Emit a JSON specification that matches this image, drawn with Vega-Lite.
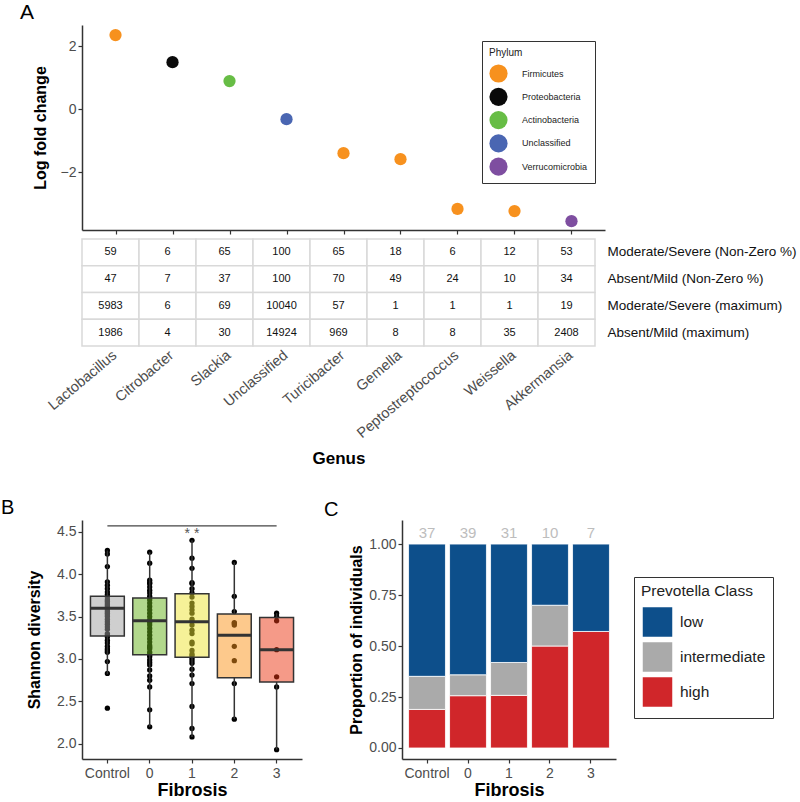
{
  "$schema": "https://vega.github.io/schema/vega-lite/v6.json",
  "padding": {"left": 1, "top": 2, "right": 1, "bottom": 2},
  "config": {
    "font": "Liberation Sans",
    "view": {"stroke": null},
    "axis": {"domainColor": "#333333", "domainWidth": 1.5, "tickColor": "#333333", "tickWidth": 1.2, "tickSize": 4, "labelColor": "#4d4d4d", "labelFontSize": 14, "labelFont": "Liberation Sans", "titleFont": "Liberation Sans", "titleFontSize": 17, "titleFontWeight": "bold", "titleColor": "#000000", "grid": false},
    "title": {"font": "Liberation Sans", "fontWeight": "normal", "color": "#000000"}
  },
  "datasets": {
    "lfc": [
      {"genus": "Lactobacillus", "phylum": "Firmicutes", "lfc": 2.35},
      {"genus": "Citrobacter", "phylum": "Proteobacteria", "lfc": 1.49},
      {"genus": "Slackia", "phylum": "Actinobacteria", "lfc": 0.89},
      {"genus": "Unclassified", "phylum": "Unclassified", "lfc": -0.32},
      {"genus": "Turicibacter", "phylum": "Firmicutes", "lfc": -1.40},
      {"genus": "Gemella", "phylum": "Firmicutes", "lfc": -1.59},
      {"genus": "Peptostreptococcus", "phylum": "Firmicutes", "lfc": -3.17},
      {"genus": "Weissella", "phylum": "Firmicutes", "lfc": -3.24},
      {"genus": "Akkermansia", "phylum": "Verrucomicrobia", "lfc": -3.56}
    ],
    "tbl": [
      {"genus": "Lactobacillus", "row": "Moderate/Severe (Non-Zero %)", "value": 59},
      {"genus": "Citrobacter", "row": "Moderate/Severe (Non-Zero %)", "value": 6},
      {"genus": "Slackia", "row": "Moderate/Severe (Non-Zero %)", "value": 65},
      {"genus": "Unclassified", "row": "Moderate/Severe (Non-Zero %)", "value": 100},
      {"genus": "Turicibacter", "row": "Moderate/Severe (Non-Zero %)", "value": 65},
      {"genus": "Gemella", "row": "Moderate/Severe (Non-Zero %)", "value": 18},
      {"genus": "Peptostreptococcus", "row": "Moderate/Severe (Non-Zero %)", "value": 6},
      {"genus": "Weissella", "row": "Moderate/Severe (Non-Zero %)", "value": 12},
      {"genus": "Akkermansia", "row": "Moderate/Severe (Non-Zero %)", "value": 53},
      {"genus": "Lactobacillus", "row": "Absent/Mild (Non-Zero %)", "value": 47},
      {"genus": "Citrobacter", "row": "Absent/Mild (Non-Zero %)", "value": 7},
      {"genus": "Slackia", "row": "Absent/Mild (Non-Zero %)", "value": 37},
      {"genus": "Unclassified", "row": "Absent/Mild (Non-Zero %)", "value": 100},
      {"genus": "Turicibacter", "row": "Absent/Mild (Non-Zero %)", "value": 70},
      {"genus": "Gemella", "row": "Absent/Mild (Non-Zero %)", "value": 49},
      {"genus": "Peptostreptococcus", "row": "Absent/Mild (Non-Zero %)", "value": 24},
      {"genus": "Weissella", "row": "Absent/Mild (Non-Zero %)", "value": 10},
      {"genus": "Akkermansia", "row": "Absent/Mild (Non-Zero %)", "value": 34},
      {"genus": "Lactobacillus", "row": "Moderate/Severe (maximum)", "value": 5983},
      {"genus": "Citrobacter", "row": "Moderate/Severe (maximum)", "value": 6},
      {"genus": "Slackia", "row": "Moderate/Severe (maximum)", "value": 69},
      {"genus": "Unclassified", "row": "Moderate/Severe (maximum)", "value": 10040},
      {"genus": "Turicibacter", "row": "Moderate/Severe (maximum)", "value": 57},
      {"genus": "Gemella", "row": "Moderate/Severe (maximum)", "value": 1},
      {"genus": "Peptostreptococcus", "row": "Moderate/Severe (maximum)", "value": 1},
      {"genus": "Weissella", "row": "Moderate/Severe (maximum)", "value": 1},
      {"genus": "Akkermansia", "row": "Moderate/Severe (maximum)", "value": 19},
      {"genus": "Lactobacillus", "row": "Absent/Mild (maximum)", "value": 1986},
      {"genus": "Citrobacter", "row": "Absent/Mild (maximum)", "value": 4},
      {"genus": "Slackia", "row": "Absent/Mild (maximum)", "value": 30},
      {"genus": "Unclassified", "row": "Absent/Mild (maximum)", "value": 14924},
      {"genus": "Turicibacter", "row": "Absent/Mild (maximum)", "value": 969},
      {"genus": "Gemella", "row": "Absent/Mild (maximum)", "value": 8},
      {"genus": "Peptostreptococcus", "row": "Absent/Mild (maximum)", "value": 8},
      {"genus": "Weissella", "row": "Absent/Mild (maximum)", "value": 35},
      {"genus": "Akkermansia", "row": "Absent/Mild (maximum)", "value": 2408}
    ],
    "shannon": [
      {"fibrosis": "Control", "shannon": 4.28}, {"fibrosis": "Control", "shannon": 4.24}, {"fibrosis": "Control", "shannon": 4.09}, {"fibrosis": "Control", "shannon": 3.91}, {"fibrosis": "Control", "shannon": 3.87}, {"fibrosis": "Control", "shannon": 3.83}, {"fibrosis": "Control", "shannon": 3.79}, {"fibrosis": "Control", "shannon": 3.76}, {"fibrosis": "Control", "shannon": 3.73}, {"fibrosis": "Control", "shannon": 3.70}, {"fibrosis": "Control", "shannon": 3.68}, {"fibrosis": "Control", "shannon": 3.66}, {"fibrosis": "Control", "shannon": 3.64}, {"fibrosis": "Control", "shannon": 3.62}, {"fibrosis": "Control", "shannon": 3.60}, {"fibrosis": "Control", "shannon": 3.58}, {"fibrosis": "Control", "shannon": 3.56}, {"fibrosis": "Control", "shannon": 3.54}, {"fibrosis": "Control", "shannon": 3.52}, {"fibrosis": "Control", "shannon": 3.50}, {"fibrosis": "Control", "shannon": 3.47}, {"fibrosis": "Control", "shannon": 3.44}, {"fibrosis": "Control", "shannon": 3.41}, {"fibrosis": "Control", "shannon": 3.38}, {"fibrosis": "Control", "shannon": 3.35}, {"fibrosis": "Control", "shannon": 3.30}, {"fibrosis": "Control", "shannon": 3.28}, {"fibrosis": "Control", "shannon": 3.26}, {"fibrosis": "Control", "shannon": 3.22}, {"fibrosis": "Control", "shannon": 3.19}, {"fibrosis": "Control", "shannon": 3.15}, {"fibrosis": "Control", "shannon": 3.12}, {"fibrosis": "Control", "shannon": 3.10}, {"fibrosis": "Control", "shannon": 3.08}, {"fibrosis": "Control", "shannon": 2.97}, {"fibrosis": "Control", "shannon": 2.83}, {"fibrosis": "Control", "shannon": 2.42},
      {"fibrosis": "0", "shannon": 4.26}, {"fibrosis": "0", "shannon": 4.13}, {"fibrosis": "0", "shannon": 3.93}, {"fibrosis": "0", "shannon": 3.90}, {"fibrosis": "0", "shannon": 3.89}, {"fibrosis": "0", "shannon": 3.85}, {"fibrosis": "0", "shannon": 3.81}, {"fibrosis": "0", "shannon": 3.78}, {"fibrosis": "0", "shannon": 3.74}, {"fibrosis": "0", "shannon": 3.70}, {"fibrosis": "0", "shannon": 3.66}, {"fibrosis": "0", "shannon": 3.62}, {"fibrosis": "0", "shannon": 3.58}, {"fibrosis": "0", "shannon": 3.54}, {"fibrosis": "0", "shannon": 3.50}, {"fibrosis": "0", "shannon": 3.46}, {"fibrosis": "0", "shannon": 3.45}, {"fibrosis": "0", "shannon": 3.43}, {"fibrosis": "0", "shannon": 3.40}, {"fibrosis": "0", "shannon": 3.36}, {"fibrosis": "0", "shannon": 3.32}, {"fibrosis": "0", "shannon": 3.28}, {"fibrosis": "0", "shannon": 3.24}, {"fibrosis": "0", "shannon": 3.20}, {"fibrosis": "0", "shannon": 3.16}, {"fibrosis": "0", "shannon": 3.14}, {"fibrosis": "0", "shannon": 3.12}, {"fibrosis": "0", "shannon": 3.08}, {"fibrosis": "0", "shannon": 3.05}, {"fibrosis": "0", "shannon": 3.03}, {"fibrosis": "0", "shannon": 2.99}, {"fibrosis": "0", "shannon": 2.96}, {"fibrosis": "0", "shannon": 2.93}, {"fibrosis": "0", "shannon": 2.87}, {"fibrosis": "0", "shannon": 2.80}, {"fibrosis": "0", "shannon": 2.75}, {"fibrosis": "0", "shannon": 2.67}, {"fibrosis": "0", "shannon": 2.40}, {"fibrosis": "0", "shannon": 2.20},
      {"fibrosis": "1", "shannon": 4.40}, {"fibrosis": "1", "shannon": 4.19}, {"fibrosis": "1", "shannon": 4.07}, {"fibrosis": "1", "shannon": 3.90}, {"fibrosis": "1", "shannon": 3.89}, {"fibrosis": "1", "shannon": 3.83}, {"fibrosis": "1", "shannon": 3.78}, {"fibrosis": "1", "shannon": 3.73}, {"fibrosis": "1", "shannon": 3.66}, {"fibrosis": "1", "shannon": 3.62}, {"fibrosis": "1", "shannon": 3.58}, {"fibrosis": "1", "shannon": 3.54}, {"fibrosis": "1", "shannon": 3.47}, {"fibrosis": "1", "shannon": 3.44}, {"fibrosis": "1", "shannon": 3.40}, {"fibrosis": "1", "shannon": 3.34}, {"fibrosis": "1", "shannon": 3.30}, {"fibrosis": "1", "shannon": 3.20}, {"fibrosis": "1", "shannon": 3.18}, {"fibrosis": "1", "shannon": 3.10}, {"fibrosis": "1", "shannon": 3.06}, {"fibrosis": "1", "shannon": 3.04}, {"fibrosis": "1", "shannon": 3.01}, {"fibrosis": "1", "shannon": 2.98}, {"fibrosis": "1", "shannon": 2.95}, {"fibrosis": "1", "shannon": 2.88}, {"fibrosis": "1", "shannon": 2.81}, {"fibrosis": "1", "shannon": 2.71}, {"fibrosis": "1", "shannon": 2.44}, {"fibrosis": "1", "shannon": 2.18}, {"fibrosis": "1", "shannon": 2.08},
      {"fibrosis": "2", "shannon": 4.14}, {"fibrosis": "2", "shannon": 3.74}, {"fibrosis": "2", "shannon": 3.56}, {"fibrosis": "2", "shannon": 3.43}, {"fibrosis": "2", "shannon": 3.42}, {"fibrosis": "2", "shannon": 3.40}, {"fibrosis": "2", "shannon": 3.15}, {"fibrosis": "2", "shannon": 2.98}, {"fibrosis": "2", "shannon": 2.71}, {"fibrosis": "2", "shannon": 2.29},
      {"fibrosis": "3", "shannon": 3.54}, {"fibrosis": "3", "shannon": 3.50}, {"fibrosis": "3", "shannon": 3.45}, {"fibrosis": "3", "shannon": 3.11}, {"fibrosis": "3", "shannon": 2.79}, {"fibrosis": "3", "shannon": 2.67}, {"fibrosis": "3", "shannon": 1.93}
    ],
    "box": [
      {"fibrosis": "Control", "lower": 2.82, "q1": 3.27, "median": 3.60, "q3": 3.74, "upper": 4.28},
      {"fibrosis": "0", "lower": 2.20, "q1": 3.05, "median": 3.45, "q3": 3.72, "upper": 4.26},
      {"fibrosis": "1", "lower": 2.08, "q1": 3.02, "median": 3.44, "q3": 3.77, "upper": 4.40},
      {"fibrosis": "2", "lower": 2.29, "q1": 2.78, "median": 3.28, "q3": 3.53, "upper": 4.14},
      {"fibrosis": "3", "lower": 1.93, "q1": 2.73, "median": 3.11, "q3": 3.49, "upper": 3.54}
    ],
    "sig": [{"from": "Control", "to": "3", "mid": "1", "y": 4.57, "label": "* *"}],
    "prev": [
      {"fibrosis": "Control", "class": "high", "count": 7}, {"fibrosis": "Control", "class": "intermediate", "count": 6}, {"fibrosis": "Control", "class": "low", "count": 24},
      {"fibrosis": "0", "class": "high", "count": 10}, {"fibrosis": "0", "class": "intermediate", "count": 4}, {"fibrosis": "0", "class": "low", "count": 25},
      {"fibrosis": "1", "class": "high", "count": 8}, {"fibrosis": "1", "class": "intermediate", "count": 5}, {"fibrosis": "1", "class": "low", "count": 18},
      {"fibrosis": "2", "class": "high", "count": 5}, {"fibrosis": "2", "class": "intermediate", "count": 2}, {"fibrosis": "2", "class": "low", "count": 3},
      {"fibrosis": "3", "class": "high", "count": 4}, {"fibrosis": "3", "class": "low", "count": 3}
    ],
    "ncount": [
      {"fibrosis": "Control", "n": 37, "top": 1}, {"fibrosis": "0", "n": 39, "top": 1}, {"fibrosis": "1", "n": 31, "top": 1}, {"fibrosis": "2", "n": 10, "top": 1}, {"fibrosis": "3", "n": 7, "top": 1}
    ]
  },
  "resolve": {"scale": {"x": "independent", "y": "independent", "color": "independent", "fill": "independent"}, "legend": {"color": "independent"}},
  "spacing": 31,
  "vconcat": [
    {
      "spacing": 3,
      "resolve": {"scale": {"x": "independent", "y": "independent", "color": "independent"}},
      "vconcat": [
        {
          "width": 523,
          "height": 205,
          "title": {"text": "A", "anchor": "start", "frame": "group", "dx": -62, "fontSize": 21, "offset": 2},
          "data": {"name": "lfc"},
          "mark": {"type": "circle", "size": 150, "opacity": 1},
          "encoding": {
            "x": {"field": "genus", "type": "nominal", "sort": ["Lactobacillus", "Citrobacter", "Slackia", "Unclassified", "Turicibacter", "Gemella", "Peptostreptococcus", "Weissella", "Akkermansia"], "scale": {"type": "point", "padding": 0.588}, "axis": {"labels": false, "title": null}},
            "y": {"field": "lfc", "type": "quantitative", "scale": {"domain": [-3.84, 2.67], "nice": false, "zero": false}, "axis": {"values": [-2, 0, 2], "title": "Log fold change", "titleFontSize": 16, "titlePadding": 12}},
            "color": {
              "field": "phylum", "type": "nominal",
              "scale": {"domain": ["Firmicutes", "Proteobacteria", "Actinobacteria", "Unclassified", "Verrucomicrobia"], "range": ["#f7911e", "#0a0a0a", "#67bd45", "#4a66b2", "#7e4ea0"]},
              "legend": {"orient": "none", "legendX": 400, "legendY": 16, "title": "Phylum", "titleFontSize": 10, "titleFontWeight": "normal", "titleColor": "#222222", "titlePadding": 6, "labelFontSize": 9, "labelColor": "#222222", "labelOffset": 14, "symbolType": "circle", "symbolSize": 330, "symbolOpacity": 1, "symbolStrokeWidth": 0, "rowPadding": 4.3, "padding": 7, "strokeColor": "#333333", "fillColor": "white"}
            }
          }
        },
        {
          "width": 513,
          "height": 107,
          "data": {"name": "tbl"},
          "encoding": {
            "x": {"field": "genus", "type": "nominal", "sort": ["Lactobacillus", "Citrobacter", "Slackia", "Unclassified", "Turicibacter", "Gemella", "Peptostreptococcus", "Weissella", "Akkermansia"], "scale": {"type": "band", "paddingInner": 0, "paddingOuter": 0}, "axis": {"orient": "bottom", "labelAngle": -40, "labelFontSize": 14.5, "domain": false, "ticks": false, "labelPadding": 2, "title": "Genus", "titleFontSize": 17, "titlePadding": 10}},
            "y": {"field": "row", "type": "nominal", "sort": ["Moderate/Severe (Non-Zero %)", "Absent/Mild (Non-Zero %)", "Moderate/Severe (maximum)", "Absent/Mild (maximum)"], "scale": {"type": "band", "paddingInner": 0, "paddingOuter": 0}, "axis": {"orient": "right", "domain": false, "ticks": false, "labelPadding": 12, "labelFontSize": 13.5, "labelLimit": 300, "labelColor": "#111111", "title": null}}
          },
          "layer": [
            {"mark": {"type": "rect", "fill": "white", "stroke": "#d9d9d9", "strokeWidth": 1.5}},
            {"mark": {"type": "text", "fontSize": 11, "color": "#111111"}, "encoding": {"text": {"field": "value", "type": "quantitative", "format": "d"}}}
          ]
        }
      ]
    },
    {
      "spacing": 22,
      "resolve": {"scale": {"x": "independent", "y": "independent", "color": "independent", "fill": "independent"}},
      "hconcat": [
        {
          "width": 220,
          "height": 239,
          "title": {"text": "B", "anchor": "start", "frame": "group", "dx": -81, "fontSize": 20, "offset": 2},
          "layer": [
            {
              "data": {"name": "shannon"},
              "mark": {"type": "circle", "size": 28, "color": "#000000", "opacity": 1},
              "encoding": {
                "x": {"field": "fibrosis", "type": "nominal", "scale": {"type": "band", "domain": ["Control", "0", "1", "2", "3"], "paddingInner": 0, "paddingOuter": 0.1}, "axis": {"labelAngle": 0, "title": "Fibrosis", "labelPadding": 3, "titleFontSize": 18, "titlePadding": 1}},
                "y": {"field": "shannon", "type": "quantitative", "scale": {"domain": [1.82, 4.64], "nice": false, "zero": false}, "title": "Shannon diversity", "axis": {"values": [2, 2.5, 3, 3.5, 4, 4.5], "format": ".1f", "titleFontSize": 16, "titlePadding": 14}}
              }
            },
            {
              "data": {"name": "box"},
              "mark": {"type": "rule", "color": "#333333", "strokeWidth": 1.5},
              "encoding": {
                "x": {"field": "fibrosis", "type": "nominal", "scale": {"type": "band", "domain": ["Control", "0", "1", "2", "3"], "paddingInner": 0, "paddingOuter": 0.1}, "title": "Fibrosis"},
                "y": {"field": "lower", "type": "quantitative", "scale": {"domain": [1.82, 4.64], "nice": false, "zero": false}, "title": "Shannon diversity"},
                "y2": {"field": "q1"}
              }
            },
            {
              "data": {"name": "box"},
              "mark": {"type": "rule", "color": "#333333", "strokeWidth": 1.5},
              "encoding": {
                "x": {"field": "fibrosis", "type": "nominal", "scale": {"type": "band", "domain": ["Control", "0", "1", "2", "3"], "paddingInner": 0, "paddingOuter": 0.1}, "title": "Fibrosis"},
                "y": {"field": "q3", "type": "quantitative", "scale": {"domain": [1.82, 4.64], "nice": false, "zero": false}, "title": "Shannon diversity"},
                "y2": {"field": "upper"}
              }
            },
            {
              "data": {"name": "box"},
              "mark": {"type": "bar", "width": {"band": 0.8}, "stroke": "#333333", "strokeWidth": 1.5, "fillOpacity": 0.5},
              "encoding": {
                "x": {"field": "fibrosis", "type": "nominal", "scale": {"type": "band", "domain": ["Control", "0", "1", "2", "3"], "paddingInner": 0, "paddingOuter": 0.1}, "title": "Fibrosis"},
                "y": {"field": "q1", "type": "quantitative", "scale": {"domain": [1.82, 4.64], "nice": false, "zero": false}, "title": "Shannon diversity"},
                "y2": {"field": "q3"},
                "fill": {"field": "fibrosis", "type": "nominal", "scale": {"domain": ["Control", "0", "1", "2", "3"], "range": ["#a0a0a0", "#66b11a", "#ede331", "#fb9419", "#eb3612"]}, "legend": null}
              }
            },
            {
              "data": {"name": "box"},
              "mark": {"type": "tick", "thickness": 3, "size": 34, "color": "#333333", "opacity": 1},
              "encoding": {
                "x": {"field": "fibrosis", "type": "nominal", "scale": {"type": "band", "domain": ["Control", "0", "1", "2", "3"], "paddingInner": 0, "paddingOuter": 0.1}, "title": "Fibrosis"},
                "y": {"field": "median", "type": "quantitative", "scale": {"domain": [1.82, 4.64], "nice": false, "zero": false}, "title": "Shannon diversity"}
              }
            },
            {
              "data": {"name": "sig"},
              "mark": {"type": "rule", "color": "#444444", "strokeWidth": 1.2},
              "encoding": {
                "x": {"field": "from", "type": "nominal", "scale": {"type": "band", "domain": ["Control", "0", "1", "2", "3"], "paddingInner": 0, "paddingOuter": 0.1}, "title": "Fibrosis"},
                "x2": {"field": "to"},
                "y": {"field": "y", "type": "quantitative", "scale": {"domain": [1.82, 4.64], "nice": false, "zero": false}, "title": "Shannon diversity"}
              }
            },
            {
              "data": {"name": "sig"},
              "mark": {"type": "text", "fontSize": 14, "color": "#555555", "baseline": "top", "dy": 1},
              "encoding": {
                "x": {"field": "mid", "type": "nominal", "scale": {"type": "band", "domain": ["Control", "0", "1", "2", "3"], "paddingInner": 0, "paddingOuter": 0.1}, "title": "Fibrosis"},
                "y": {"field": "y", "type": "quantitative", "scale": {"domain": [1.82, 4.64], "nice": false, "zero": false}, "title": "Shannon diversity"},
                "text": {"field": "label"}
              }
            }
          ]
        },
        {
          "width": 214,
          "height": 239,
          "title": {"text": "C", "anchor": "start", "frame": "group", "dx": -78, "fontSize": 20, "offset": 0},
          "layer": [
            {
              "data": {"name": "prev"},
              "mark": {"type": "bar", "stroke": "white", "strokeWidth": 0.8},
              "encoding": {
                "x": {"field": "fibrosis", "type": "nominal", "scale": {"type": "band", "domain": ["Control", "0", "1", "2", "3"], "paddingInner": 0.1, "paddingOuter": 0.16}, "axis": {"labelAngle": 0, "title": "Fibrosis", "labelPadding": 3, "titleFontSize": 18, "titlePadding": 1}},
                "y": {"aggregate": "sum", "field": "count", "type": "quantitative", "stack": "normalize", "scale": {"domain": [-0.054, 1.118], "nice": false, "zero": false}, "title": "Proportion of individuals", "axis": {"values": [0, 0.25, 0.5, 0.75, 1], "labelExpr": "format(datum.value, '.2f')", "titleFontSize": 16}},
                "color": {
                  "field": "class", "type": "nominal",
                  "scale": {"domain": ["low", "intermediate", "high"], "range": ["#0d4f8b", "#aaaaaa", "#d0262a"]},
                  "legend": {"orient": "none", "legendX": 232, "legendY": 57, "title": "Prevotella Class", "titleFontSize": 15.5, "titleFontWeight": "normal", "titleColor": "#222222", "titlePadding": 6, "labelFontSize": 15.5, "labelColor": "#222222", "labelOffset": 6, "symbolType": "square", "symbolSize": 961, "symbolOpacity": 1, "symbolStrokeColor": "white", "symbolStrokeWidth": 1.5, "rowPadding": -8, "padding": 7, "strokeColor": "#333333", "fillColor": "white"}
                },
                "order": {"field": "class", "sort": "ascending"}
              }
            },
            {
              "data": {"name": "ncount"},
              "mark": {"type": "text", "fontSize": 15, "color": "#bdbdbd", "baseline": "bottom", "dy": -3},
              "encoding": {
                "x": {"field": "fibrosis", "type": "nominal", "scale": {"type": "band", "domain": ["Control", "0", "1", "2", "3"], "paddingInner": 0.1, "paddingOuter": 0.16}, "title": "Fibrosis"},
                "y": {"field": "top", "type": "quantitative", "title": "Proportion of individuals", "axis": {"values": [0, 0.25, 0.5, 0.75, 1], "labelExpr": "format(datum.value, '.2f')", "titleFontSize": 16}},
                "text": {"field": "n"}
              }
            }
          ]
        }
      ]
    }
  ]
}
